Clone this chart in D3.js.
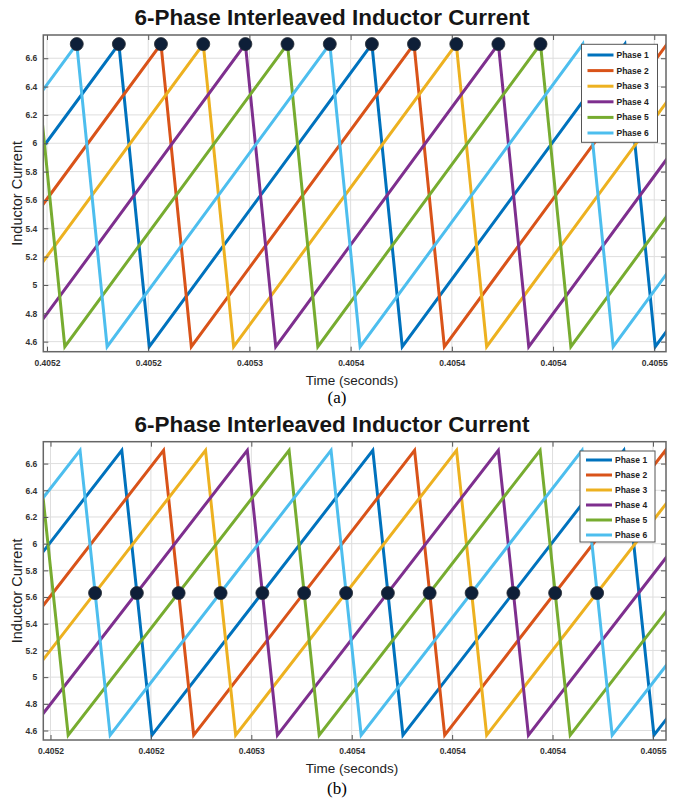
<!DOCTYPE html>
<html>
<head>
<meta charset="utf-8">
<script src="https://cdn.jsdelivr.net/npm/d3@7/dist/d3.min.js"></script>
<style>
  html, body { margin: 0; padding: 0; background: #fff; }
  svg { display: block; }
</style>
</head>
<body>
<svg id="fig" width="673" height="802"></svg>
<script>
// ---- data -------------------------------------------------------------
// Time is given in microseconds after t0 = 0.4052 s.
const phaseNames = ["Phase 1", "Phase 2", "Phase 3", "Phase 4", "Phase 5", "Phase 6"];

// Sawtooth vertices (time in µs, current in A) for each phase
const phase1T = [-74.5, 35.5, 50.5, 160.5, 175.5, 285.5, 300.5, 410.5];
const phase1I = [4.565, 6.70, 4.565, 6.70, 4.565, 6.70, 4.565, 6.70];
const phase2T = [-53.7, 56.3, 71.3, 181.3, 196.3, 306.3, 321.3];
const phase2I = [4.565, 6.70, 4.565, 6.70, 4.565, 6.70, 4.565];
const phase3T = [-32.8, 77.2, 92.2, 202.2, 217.2, 327.2];
const phase3I = [4.565, 6.70, 4.565, 6.70, 4.565, 6.70];
const phase4T = [-12.0, 98.0, 113.0, 223.0, 238.0, 348.0];
const phase4I = [4.565, 6.70, 4.565, 6.70, 4.565, 6.70];
const phase5T = [-116.2, -6.2, 8.8, 118.8, 133.8, 243.8, 258.8, 368.8];
const phase5I = [4.565, 6.70, 4.565, 6.70, 4.565, 6.70, 4.565, 6.70];
const phase6T = [-95.3, 14.7, 29.7, 139.7, 154.7, 264.7, 279.7, 389.7];
const phase6I = [4.565, 6.70, 4.565, 6.70, 4.565, 6.70, 4.565, 6.70];

// Markers: (a) at the current peaks, (b) at the crossing points
const markersA_T = [14.7, 35.5, 56.3, 77.2, 98.0, 118.8, 139.7, 160.5, 181.3, 202.2, 223.0, 243.8];
const markersA_I = [6.70, 6.70, 6.70, 6.70, 6.70, 6.70, 6.70, 6.70, 6.70, 6.70, 6.70, 6.70];
const markersB_T = [22.2, 43.0, 63.8, 84.7, 105.5, 126.3, 147.2, 168.0, 188.8, 209.7, 230.5, 251.3, 272.2];
const markersB_I = [5.63, 5.63, 5.63, 5.63, 5.63, 5.63, 5.63, 5.63, 5.63, 5.63, 5.63, 5.63, 5.63];

// Axis ticks and visible ranges
const xTickValues = [0, 50, 100, 150, 200, 250, 300];
const xTickLabels = ["0.4052", "0.4052", "0.4053", "0.4054", "0.4054", "0.4054", "0.4055"];
const yTickValues = [4.6, 4.8, 5.0, 5.2, 5.4, 5.6, 5.8, 6.0, 6.2, 6.4, 6.6];
const yTickLabels = ["4.6", "4.8", "5", "5.2", "5.4", "5.6", "5.8", "6", "6.2", "6.4", "6.6"];
const xDomainA = [-1.83, 305.8];
const xDomainB = [-3.59, 306.5];
const yDomain = [4.529, 6.764];

// ---- styling ----------------------------------------------------------
const colors = ["#0072BD", "#D95319", "#EDB120", "#7E2F8E", "#77AC30", "#4DBEEE"];
const phases = [
  [phase1T, phase1I], [phase2T, phase2I], [phase3T, phase3I],
  [phase4T, phase4I], [phase5T, phase5I], [phase6T, phase6I]
].map(([T, I], k) => ({ name: phaseNames[k], color: colors[k], pts: T.map((t, j) => [t, I[j]]) }));

const svg = d3.select("#fig");
const FONT = "'Liberation Sans', Arial, sans-serif";

function drawPanel(cfg) {
  const { id, left, right, top, bottom, xDomain, mT, mI, legend, caption } = cfg;
  const g = svg.append("g").attr("id", id);
  const x = d3.scaleLinear().domain(xDomain).range([left, right]);
  const y = d3.scaleLinear().domain(yDomain).range([bottom, top]);

  // title
  g.append("text")
    .attr("x", 332).attr("y", top - 10)
    .attr("text-anchor", "middle")
    .attr("font-family", FONT).attr("font-weight", "bold").attr("font-size", 22.5)
    .attr("fill", "#161616")
    .text("6-Phase Interleaved Inductor Current");

  // grid
  const grid = g.append("g").attr("stroke", "#dedede").attr("stroke-width", 1);
  grid.selectAll("line.gx").data(xTickValues).join("line")
    .attr("x1", d => x(d)).attr("x2", d => x(d)).attr("y1", top).attr("y2", bottom);
  grid.selectAll("line.gy").data(yTickValues).join("line")
    .attr("x1", left).attr("x2", right).attr("y1", d => y(d)).attr("y2", d => y(d));

  // traces
  const clipId = id + "-clip";
  g.append("clipPath").attr("id", clipId).append("rect")
    .attr("x", left).attr("y", top).attr("width", right - left).attr("height", bottom - top);
  const line = d3.line().x(d => x(d[0])).y(d => y(d[1]));
  g.append("g").attr("clip-path", `url(#${clipId})`)
    .selectAll("path").data(phases).join("path")
    .attr("d", d => line(d.pts))
    .attr("fill", "none").attr("stroke", d => d.color)
    .attr("stroke-width", 3).attr("stroke-linejoin", "miter");

  // axes (box with inward ticks)
  const xAxisB = d3.axisBottom(x).tickValues(xTickValues).tickSize(-5).tickPadding(8)
    .tickFormat((d, i) => xTickLabels[i]);
  const xAxisT = d3.axisTop(x).tickValues(xTickValues).tickSize(-5).tickFormat("");
  const yAxisL = d3.axisLeft(y).tickValues(yTickValues).tickSize(-5).tickPadding(6)
    .tickFormat((d, i) => yTickLabels[i]);
  const yAxisR = d3.axisRight(y).tickValues(yTickValues).tickSize(-5).tickFormat("");
  const styleAxis = sel => {
    sel.selectAll(".domain").remove();
    sel.selectAll(".tick line").attr("stroke", "#555").attr("stroke-width", 1);
    sel.selectAll(".tick text").attr("font-family", FONT).attr("font-size", 8.5)
      .attr("font-weight", "bold").attr("fill", "#333");
  };
  g.append("g").attr("transform", `translate(0,${bottom})`).call(xAxisB).call(styleAxis);
  g.append("g").attr("transform", `translate(0,${top})`).call(xAxisT).call(styleAxis);
  g.append("g").attr("transform", `translate(${left},0)`).call(yAxisL).call(styleAxis);
  g.append("g").attr("transform", `translate(${right},0)`).call(yAxisR).call(styleAxis);
  g.append("rect").attr("x", left).attr("y", top)
    .attr("width", right - left).attr("height", bottom - top)
    .attr("fill", "none").attr("stroke", "#666").attr("stroke-width", 1.5);

  // markers
  g.append("g").selectAll("circle").data(mT.map((t, j) => [t, mI[j]])).join("circle")
    .attr("cx", d => x(d[0])).attr("cy", d => y(d[1])).attr("r", 6.5)
    .attr("fill", "#0e1f38").attr("stroke", "#2a2f36").attr("stroke-width", 0.8);

  // legend
  const lg = g.append("g");
  lg.append("rect").attr("x", legend.x).attr("y", legend.y)
    .attr("width", legend.w).attr("height", legend.h)
    .attr("fill", "#fff").attr("stroke", "#555").attr("stroke-width", 1);
  phases.forEach((p, k) => {
    const yy = legend.y + legend.first + k * legend.step;
    lg.append("line").attr("x1", legend.x + 6).attr("x2", legend.x + 32)
      .attr("y1", yy).attr("y2", yy).attr("stroke", p.color).attr("stroke-width", 3);
    lg.append("text").attr("x", legend.x + 35).attr("y", yy + 3)
      .attr("font-family", FONT).attr("font-size", 8.5).attr("font-weight", "bold")
      .attr("fill", "#222").text(p.name);
  });

  // axis titles
  g.append("text").attr("x", 352).attr("y", bottom + 33)
    .attr("text-anchor", "middle").attr("font-family", FONT).attr("font-size", 13.5)
    .attr("fill", "#222").text("Time (seconds)");
  g.append("text")
    .attr("transform", `translate(${left - 21},${(top + bottom) / 2}) rotate(-90)`)
    .attr("text-anchor", "middle").attr("font-family", FONT).attr("font-size", 14.5)
    .attr("fill", "#222").text("Inductor Current");

  // caption
  g.append("text").attr("x", 337).attr("y", caption)
    .attr("text-anchor", "middle").attr("font-family", "'Liberation Serif', 'Times New Roman', serif")
    .attr("font-size", 17).attr("fill", "#000").text(cfg.tag);
}

drawPanel({
  id: "panelA", left: 43.3, right: 666, top: 35, bottom: 351.7, xDomain: xDomainA,
  mT: markersA_T, mI: markersA_I, tag: "(a)", caption: 403,
  legend: { x: 581.5, y: 44.3, w: 76, h: 98, first: 10.7, step: 15.6 }
});
drawPanel({
  id: "panelB", left: 43.3, right: 666, top: 441.7, bottom: 740, xDomain: xDomainB,
  mT: markersB_T, mI: markersB_I, tag: "(b)", caption: 794,
  legend: { x: 580, y: 451, w: 75, h: 91, first: 9, step: 15 }
});
</script>
</body>
</html>
